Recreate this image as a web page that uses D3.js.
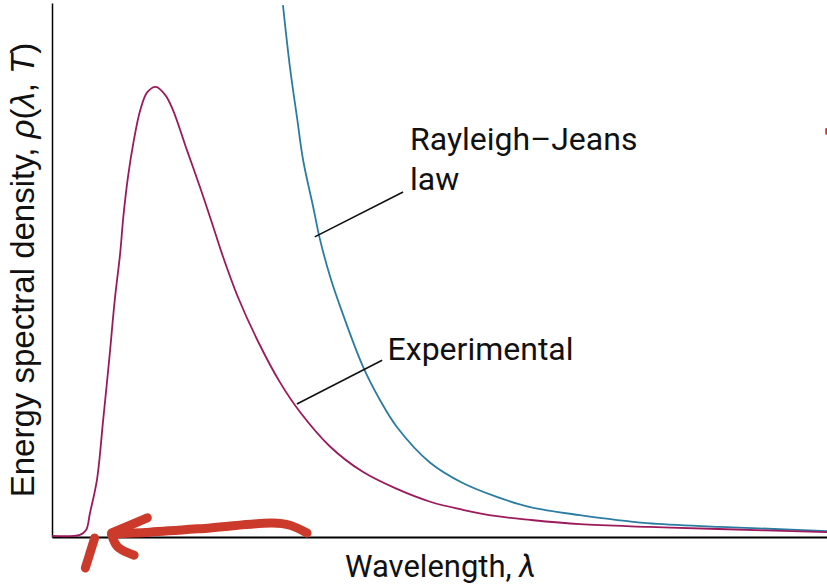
<!DOCTYPE html>
<html>
<head>
<meta charset="utf-8">
<script src="https://cdn.jsdelivr.net/npm/d3@7"></script>
<style>
  body { margin: 0; background: #fff; }
  svg { display: block; }
</style>
</head>
<body>
<svg id="chart" width="827" height="585"></svg>
<script>
// Datos (unidades arbitrarias, 0-100 en ambos ejes)
const experimentalX = [0, 3.6, 4.4, 4.9, 5.8, 6.6, 7.4, 8.1, 8.8, 9.2, 9.8, 10.5, 11.4, 12.3, 13.4, 14.6, 15.6, 17.4, 19.1, 20.8, 21.9, 24.0, 26.8, 29.4, 32.0, 35.9, 40.1, 44.5, 48.8, 53.0, 57.4, 61.7, 68.1, 77.0, 86.0, 100];
const experimentalY = [0.2, 0.4, 1.3, 4.5, 10.7, 21.9, 33.5, 44.4, 53.2, 59.9, 67.4, 73.8, 80.0, 83.3, 84.3, 82.8, 80.0, 72.5, 65.5, 58.1, 53.2, 44.9, 36.0, 29.0, 23.4, 16.9, 12.2, 9.0, 6.6, 5.1, 3.9, 3.2, 2.4, 1.9, 1.5, 0.9];

const rayleighX = [29.8, 30.7, 31.6, 32.4, 33.7, 34.6, 35.9, 37.2, 40.1, 42.3, 44.5, 48.8, 53.0, 57.4, 61.7, 68.1, 76.8, 86.2, 96.9, 100];
const rayleighY = [99.6, 88.0, 78.7, 70.6, 61.8, 55.6, 48.7, 43.1, 32.0, 25.7, 20.6, 13.9, 10.1, 7.5, 5.6, 4.1, 2.6, 1.9, 1.3, 1.1];

// Etiquetas y líneas guía
const labels = [
  { lines: ["Rayleigh\u2013Jeans", "law"], x: 46.2, y: 72.5 },
  { lines: ["Experimental"], x: 43.3, y: 33.2 }
];
const leaders = [
  { from: [33.9, 56.2], to: [45.3, 64.6] },
  { from: [31.6, 24.9], to: [42.6, 33.1] }
];

// Anotación a mano (flecha roja)
const redStrokes = [
  [[32.9, 0.75], [30.7, 2.2], [28.4, 2.6], [20.4, 1.7], [12.6, 0.9], [7.7, 0.6]],
  [[12.3, 3.6], [7.7, 0.75]],
  [[7.7, 0.4], [8.5, -1.9], [10.6, -3.4]],
  [[5.5, -0.2], [4.3, -5.8]],
  [[99.9, 76.4], [99.9, 75.5]]
];

const svg = d3.select("#chart");
const margin = { left: 52, right: 0, top: 3, bottom: 48 };
const width = +svg.attr("width");
const height = +svg.attr("height");

const x = d3.scaleLinear().domain([0, 100]).range([margin.left, width - margin.right]);
const y = d3.scaleLinear().domain([0, 100]).range([height - margin.bottom, margin.top]);

const line = d3.line()
  .x(d => x(d[0]))
  .y(d => y(d[1]))
  .curve(d3.curveCatmullRom.alpha(0.5));

// Ejes (sin marcas)
svg.append("g")
  .attr("transform", `translate(0,${y(0)})`)
  .call(d3.axisBottom(x).ticks(0).tickSizeOuter(0))
  .select(".domain")
  .attr("stroke", "#000")
  .attr("stroke-width", 2);

svg.append("g")
  .attr("transform", `translate(${x(0)},0)`)
  .call(d3.axisLeft(y).ticks(0).tickSizeOuter(0))
  .select(".domain")
  .attr("stroke", "#000")
  .attr("stroke-width", 1.5);

// Curvas
svg.append("path")
  .datum(d3.zip(rayleighX, rayleighY))
  .attr("d", line)
  .attr("fill", "none")
  .attr("stroke", "#2a7ca3")
  .attr("stroke-width", 1.8);

svg.append("path")
  .datum(d3.zip(experimentalX, experimentalY))
  .attr("d", line)
  .attr("fill", "none")
  .attr("stroke", "#9c1a5b")
  .attr("stroke-width", 1.8);

// Líneas guía
svg.selectAll(".leader")
  .data(leaders)
  .enter()
  .append("line")
  .attr("class", "leader")
  .attr("x1", d => x(d.from[0]))
  .attr("y1", d => y(d.from[1]))
  .attr("x2", d => x(d.to[0]))
  .attr("y2", d => y(d.to[1]))
  .attr("stroke", "#111")
  .attr("stroke-width", 1.6);

// Etiquetas de curvas
svg.selectAll(".curve-label")
  .data(labels)
  .enter()
  .append("text")
  .attr("class", "curve-label")
  .attr("x", d => x(d.x))
  .attr("y", d => y(d.y))
  .style("font-family", "Roboto, 'Liberation Sans', sans-serif")
  .style("font-size", "32px")
  .style("fill", "#111")
  .each(function(d) {
    d.lines.forEach((t, i) => {
      d3.select(this).append("tspan")
        .attr("x", x(d.x))
        .attr("dy", i === 0 ? 0 : 40)
        .text(t);
    });
  });

// Títulos de los ejes
const xTitle = svg.append("text")
  .attr("x", x(50) + 1)
  .attr("y", height - 8)
  .attr("text-anchor", "middle")
  .style("font-family", "Roboto, 'Liberation Sans', sans-serif")
  .style("font-size", "31px")
  .style("fill", "#111");
xTitle.append("tspan").text("Wavelength, ");
xTitle.append("tspan").style("font-style", "italic").text("λ");

const yTitle = svg.append("text")
  .attr("transform", `translate(34,${y(50)}) rotate(-90)`)
  .attr("text-anchor", "middle")
  .style("font-family", "'Liberation Sans', Arial, sans-serif")
  .style("font-size", "33px")
  .style("fill", "#111");
yTitle.append("tspan").text("Energy spectral density, ");
yTitle.append("tspan").style("font-style", "italic").text("ρ");
yTitle.append("tspan").text("(");
yTitle.append("tspan").style("font-style", "italic").text("λ");
yTitle.append("tspan").text(", ");
yTitle.append("tspan").style("font-style", "italic").text("T");
yTitle.append("tspan").text(")");

// Flecha roja dibujada a mano
const redLine = d3.line()
  .x(d => x(d[0]))
  .y(d => y(d[1]))
  .curve(d3.curveCatmullRom);

svg.selectAll(".red")
  .data(redStrokes)
  .enter()
  .append("path")
  .attr("class", "red")
  .attr("d", redLine)
  .attr("fill", "none")
  .attr("stroke", "#cc3a2b")
  .attr("stroke-width", (d, i) => i === 4 ? 2 : 9)
  .attr("stroke-linecap", "round")
  .attr("stroke-linejoin", "round");
</script>
</body>
</html>
